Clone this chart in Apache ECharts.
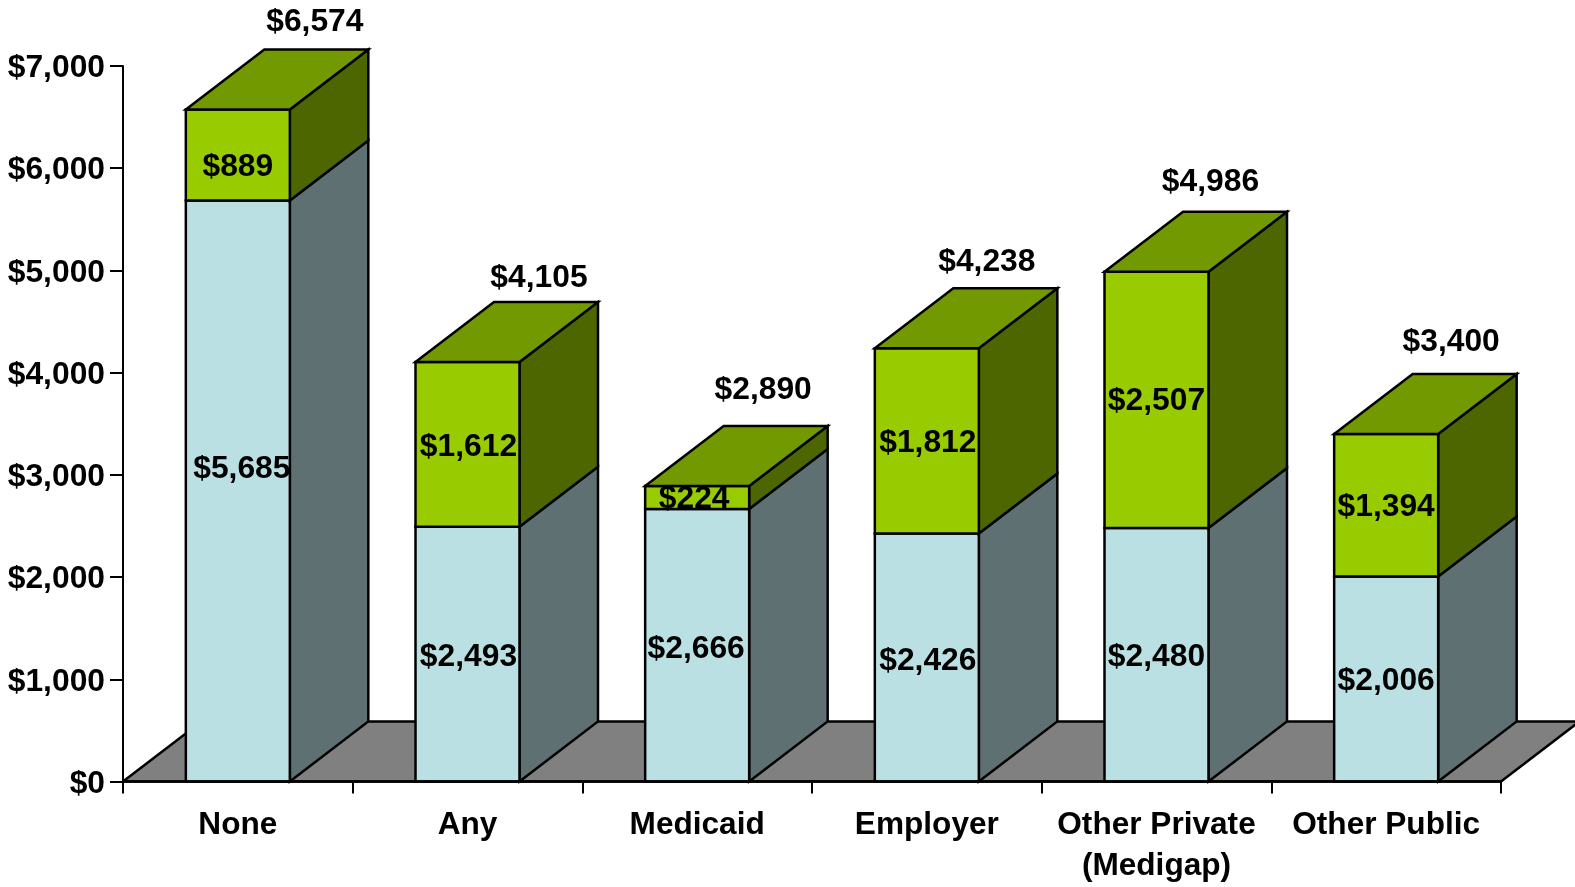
<!DOCTYPE html>
<html>
<head>
<meta charset="utf-8">
<style>html,body{margin:0;padding:0;background:#fff;overflow:hidden}#chart{width:1575px;height:887px}</style>
<script src="https://cdn.jsdelivr.net/npm/echarts@6/dist/echarts.min.js"></script>
</head>
<body>
<div id="chart"></div>
<script>
// Data
const categories = ['None', 'Any', 'Medicaid', 'Employer', 'Other Private\n(Medigap)', 'Other Public'];
const lowerValues = [5685, 2493, 2666, 2426, 2480, 2006];
const upperValues = [889, 1612, 224, 1812, 2507, 1394];
const totalValues = [6574, 4105, 2890, 4238, 4986, 3400];

// Layout (pixels)
const depthX = 78.5, depthY = 60, barWidth = 104;
const textNudge = 2;
const totalShiftX = [77, 71.5, 66, 60, 54, 65];
const totalShiftY = [-29, -26, -38, -28, -32, -34];
const lowerShift = [[4, -24], [1, 1], [-1, 2], [1, 2], [0, 0], [0, 0]];
const upperShift = [[0, 10], [1, 1], [-3, 0], [1, 0], [0, -1], [0, 0]];

const FONT = 'bold 31.8px "Liberation Sans", Arial, sans-serif';
const money = v => '$' + String(v).replace(/\B(?=(\d{3})+$)/g, ',');
const edge = { stroke: '#000', lineWidth: 2.5, lineJoin: 'miter' };

function poly(points, fill) {
  return { type: 'polygon', shape: { points }, style: Object.assign({ fill }, edge) };
}
function text(str, x, y) {
  return { type: 'text', z2: 10, style: { text: str, x, y: y + textNudge, align: 'center', verticalAlign: 'middle', font: FONT, fill: '#000' } };
}
function block(xl, xr, yb, yt, front, side, top) {
  const out = [
    poly([[xr, yb], [xr + depthX, yb - depthY], [xr + depthX, yt - depthY], [xr, yt]], side),
    poly([[xl, yb], [xr, yb], [xr, yt], [xl, yt]], front)
  ];
  if (top) out.push(poly([[xl, yt], [xr, yt], [xr + depthX, yt - depthY], [xl + depthX, yt - depthY]], top));
  return out;
}

const option = {
  animation: false,
  backgroundColor: '#fff',
  grid: { left: 123, right: 74, top: 66, bottom: 105.5, containLabel: false, outerBoundsMode: 'none' },
  xAxis: {
    type: 'category', data: categories, z: 5,
    axisLine: { lineStyle: { color: '#000', width: 2.5 } },
    axisTick: { show: true, length: 12, interval: 0, alignWithLabel: false, lineStyle: { color: '#000', width: 2 } },
    axisLabel: { interval: 0, margin: 23, color: '#000', fontFamily: '"Liberation Sans", Arial, sans-serif', fontWeight: 'bold', fontSize: 31.6, lineHeight: 41, verticalAlign: 'top', hideOverlap: false }
  },
  yAxis: {
    type: 'value', min: 0, max: 7000, interval: 1000, z: 5,
    splitLine: { show: false },
    axisLine: { show: true, lineStyle: { color: '#000', width: 2 } },
    axisTick: { show: true, length: 13, lineStyle: { color: '#000', width: 2 } },
    axisLabel: {
      margin: 18, formatter: v => '{t|' + money(v) + '}',
      rich: { t: { color: '#000', fontFamily: '"Liberation Sans", Arial, sans-serif', fontWeight: 'bold', fontSize: 31.8, padding: [5, 0, 0, 0] } }
    }
  },
  series: [
    {
      type: 'custom', clip: false, z: 1, silent: true,
      data: [[0, categories.length - 1]],
      renderItem(params, api) {
        const half = api.size([1, 0])[0] / 2;
        const a = api.coord([api.value(0), 0]), b = api.coord([api.value(1), 0]);
        const xl = a[0] - half, xr = b[0] + half, y = a[1];
        return poly([[xl, y], [xr, y], [xr + depthX, y - depthY], [xl + depthX, y - depthY]], '#808080');
      }
    },
    {
      type: 'custom', clip: false, z: 2, silent: true,
      data: categories.map((c, i) => [i, lowerValues[i], upperValues[i], totalValues[i]]),
      renderItem(params, api) {
        const i = api.value(0), lo = api.value(1), up = api.value(2), total = api.value(3);
        const p0 = api.coord([i, 0]), p1 = api.coord([i, lo]), p2 = api.coord([i, lo + up]);
        const cx = p0[0], xl = cx - barWidth / 2, xr = cx + barWidth / 2;
        const children = [].concat(
          block(xl, xr, p0[1], p1[1], '#BBE0E3', '#5E7072', null),
          block(xl, xr, p1[1], p2[1], '#99CC00', '#4D6600', '#739900'),
          [
            text(money(lo), cx + lowerShift[i][0], (p0[1] + p1[1]) / 2 + lowerShift[i][1]),
            text(money(up), cx + upperShift[i][0], (p1[1] + p2[1]) / 2 + upperShift[i][1]),
            text(money(total), cx + totalShiftX[i], p2[1] - depthY + totalShiftY[i])
          ]
        );
        return { type: 'group', children };
      }
    }
  ]
};
echarts.init(document.getElementById('chart'), null, { renderer: 'canvas' }).setOption(option);
</script>
</body>
</html>
